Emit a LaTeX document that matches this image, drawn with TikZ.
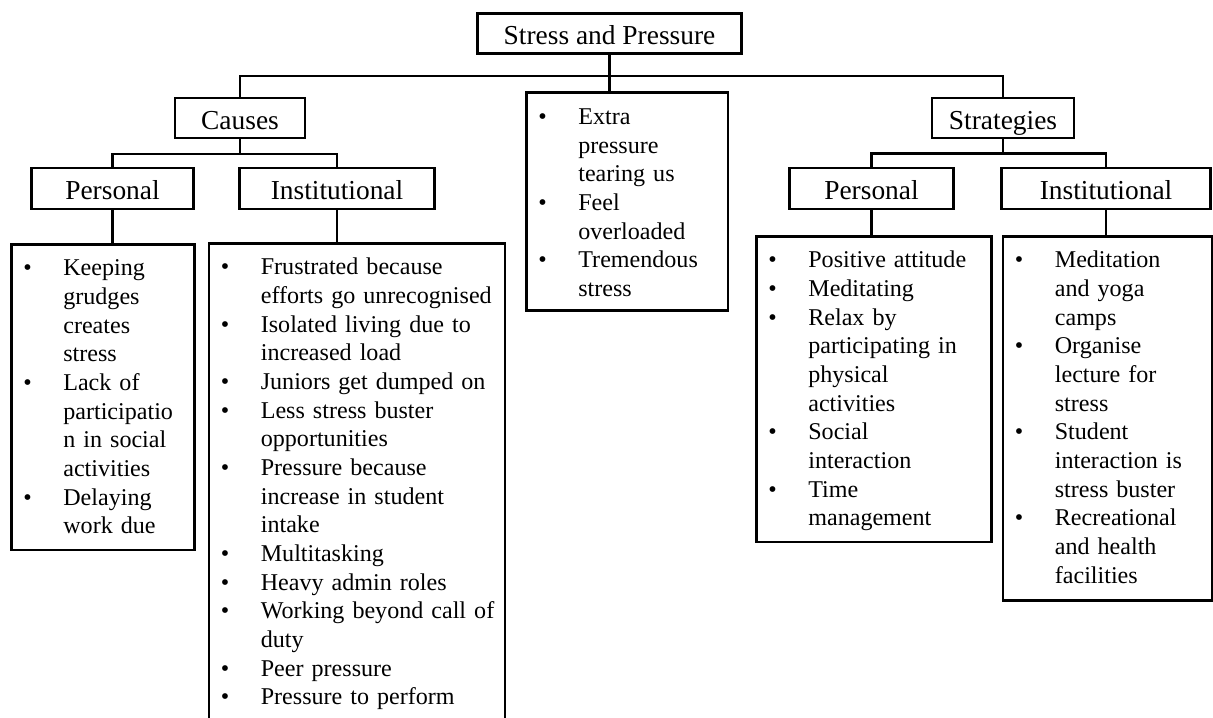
\documentclass[tikz,border=0pt]{standalone}
\usepackage{fontspec}
\setmainfont{Liberation Serif}
\usepackage{tikz}
\usetikzlibrary{positioning}

\newcommand\headfont{\fontsize{15.6}{18}\selectfont}
\newcommand\itemfont{\fontsize{13.7}{16.3}\selectfont}
% one bulleted entry, continuation lines hang under the text
\newcommand\itm[1]{\par\raggedright\hangindent=0.8cm\hangafter=1\noindent
  \makebox[0.8cm][l]{\textbullet}\strut#1\par}

\begin{document}
\begin{tikzpicture}[
  hbox/.style={draw, line width=1.5pt, inner sep=0pt, minimum height=0.8cm,
    text height=0.5cm, text depth=0.04cm, font=\headfont},
  frame/.style={draw, line width=1.5pt, inner sep=0pt, anchor=north west},
  items/.style={anchor=north west, inner sep=0pt, xshift=0.26cm, yshift=-0.08cm, font=\itemfont},
  link/.style={line width=1.5pt}]
  \clip (0,0) rectangle (24.26,-14.36);
  % headings
  \node[hbox, minimum width=5.29cm] (top) at (12.19,-0.67) {Stress and Pressure};
  \node[hbox, minimum width=2.60cm] (causes) at (4.80,-2.36) {Causes};
  \node[hbox, minimum width=2.84cm] (strat) at (20.06,-2.36) {Strategies};
  \node[hbox, minimum width=3.23cm, minimum height=0.82cm] (cpers) at (2.25,-3.77) {Personal};
  \node[hbox, minimum width=3.91cm, minimum height=0.82cm] (cinst) at (6.74,-3.77) {Institutional};
  \node[hbox, minimum width=3.28cm, minimum height=0.82cm] (spers) at (17.43,-3.77) {Personal};
  \node[hbox, minimum width=4.17cm, minimum height=0.82cm] (sinst) at (22.12,-3.77) {Institutional};
  % list frames
  \node[frame, minimum width=4.03cm, minimum height=4.35cm] (extra) at (10.50,-1.83) {};
  \node[frame, minimum width=3.66cm, minimum height=6.11cm] (cplist) at (0.20,-4.86) {};
  \node[frame, minimum width=5.92cm, minimum height=10cm] (cilist) at (4.15,-4.84) {};
  \node[frame, minimum width=4.70cm, minimum height=6.11cm] (splist) at (15.10,-4.70) {};
  \node[frame, minimum width=4.18cm, minimum height=7.28cm] (silist) at (20.03,-4.70) {};
  % list texts
  \node[items, text width=3.7cm] (extext) at (extra.north west) {%
    \itm{Extra\newline pressure\newline tearing us}
    \itm{Feel\newline overloaded}
    \itm{Tremendous\newline stress}};
  \node[items, text width=3.35cm] (cptext) at (cplist.north west) {%
    \itm{Keeping\newline grudges\newline creates\newline stress}
    \itm{Lack of\newline participatio\newline n in social\newline activities}
    \itm{Delaying\newline work due}};
  \node[items, text width=5.6cm] (citext) at (cilist.north west) {%
    \itm{Frustrated because\newline efforts go unrecognised}
    \itm{Isolated living due to\newline increased load}
    \itm{Juniors get dumped on}
    \itm{Less stress buster\newline opportunities}
    \itm{Pressure because\newline increase in student\newline intake}
    \itm{Multitasking}
    \itm{Heavy admin roles}
    \itm{Working beyond call of\newline duty}
    \itm{Peer pressure}
    \itm{Pressure to perform}};
  \node[items, text width=4.4cm] (sptext) at (splist.north west) {%
    \itm{Positive attitude}
    \itm{Meditating}
    \itm{Relax by\newline participating in\newline physical\newline activities}
    \itm{Social\newline interaction}
    \itm{Time\newline management}};
  \node[items, text width=3.85cm] (sitext) at (silist.north west) {%
    \itm{Meditation\newline and yoga\newline camps}
    \itm{Organise\newline lecture for\newline stress}
    \itm{Student\newline interaction is\newline stress buster}
    \itm{Recreational\newline and health\newline facilities}};
  % tree lines
  \coordinate (tbus) at (0,-1.52);
  \coordinate (cbus) at (0,-3.08);
  \coordinate (sbus) at (0,-3.07);
  \draw[link] (top.south) -- (top.south |- extra.north);
  \foreach \c in {causes,strat}
    \draw[link] (top.south |- tbus) -| (\c.north);
  \foreach \c in {cpers,cinst}
    \draw[link] (causes.south) -- (causes.south |- cbus) -| (\c.north);
  \foreach \c in {spers,sinst}
    \draw[link] (strat.south) -- (strat.south |- sbus) -| (\c.north);
  \foreach \c/\l in {cpers/cplist, cinst/cilist, spers/splist, sinst/silist}
    \draw[link] (\c.south) -- (\c.south |- \l.north);
\end{tikzpicture}
\end{document}
